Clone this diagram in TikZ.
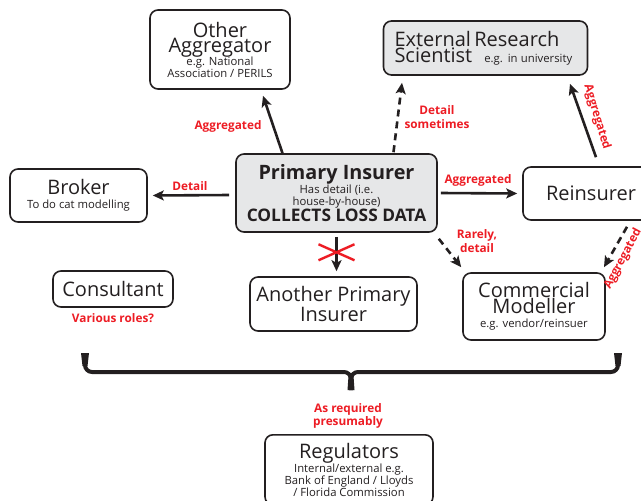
\documentclass[tikz,border=0pt]{standalone}
\usepackage{fontspec}
\setmainfont{Open Sans}
\usetikzlibrary{arrows.meta,calc}
\definecolor{lblred}{RGB}{237,28,36}
\definecolor{boxgray}{RGB}{230,231,232}
\definecolor{ink}{RGB}{35,31,32}
\newcommand\boxtitle{\fontsize{20}{20}\selectfont}
\newcommand\boxnote{\fontsize{11.3}{13}\selectfont}
\newcommand\boxsub{\fontsize{11.3}{13}\selectfont}
\begin{document}
\begin{tikzpicture}[x=1pt,y=-1pt,
  box/.style={draw=ink, line width=1.6pt, rounded corners=8pt, align=center,
    inner sep=0pt, text=ink},
  graybox/.style={box, fill=boxgray},
  flow/.style={draw=ink, line width=2.6pt,
    -{Stealth[length=11pt,width=10pt,inset=2.5pt]}},
  maybe/.style={flow, dash pattern=on 7pt off 5pt},
  lbl/.style={text=lblred, font=\fontsize{11.8}{13.5}\selectfont\bfseries,
    align=center, inner sep=0pt}]
\useasboundingbox (0,0) rectangle (641,501);

% ---- boxes ----
\node[box, minimum width=140pt, minimum height=79pt] (oagg) at (220,49.5)
  {\boxtitle Other\\\boxtitle Aggregator\\[-2pt]\boxnote e.g. National\\\boxnote Association / PERILS};
\node[graybox, minimum width=204pt, minimum height=54pt, align=left, text width=182pt]
  (ext) at (485.5,48)
  {\boxtitle External Research\\Scientist\hspace{12pt}\boxnote e.g. in university};
\node[box, minimum width=137pt, minimum height=53pt] (broker) at (78.5,195.5)
  {\boxtitle Broker\\[2pt]\boxnote To do cat modelling};
\node[graybox, minimum width=201pt, minimum height=78pt] (primary) at (336.5,193)
  {\fontsize{19.8}{20}\selectfont\bfseries Primary Insurer\\
   \boxsub Has detail (i.e.\\\boxsub house-by-house)\\
   \fontsize{17.3}{18}\selectfont\bfseries COLLECTS LOSS DATA};
\node[box, minimum width=136pt, minimum height=53pt] (reins) at (591,193.5)
  {\boxtitle Reinsurer};
\node[box, minimum width=120pt, minimum height=36pt] (consult) at (113,289)
  {\boxtitle Consultant};
\node[box, minimum width=167pt, minimum height=54pt] (another) at (333.5,304)
  {\boxtitle Another Primary\\\boxtitle Insurer};
\node[box, minimum width=142pt, minimum height=67pt] (commod) at (534,306.5)
  {\boxtitle Commercial\\\boxtitle Modeller\\[2pt]\boxnote e.g. vendor/reinsuer};
\node[box, minimum width=168pt, minimum height=70pt, anchor=north] (regul) at (349,434)
  {\boxtitle Regulators\\[0pt]\boxsub Internal/external e.g.\\\boxsub Bank of England / Lloyds\\\boxsub / Florida Commission};

% ---- flows of data ----
\draw[flow] ([xshift=-54pt]primary.north) -- ([xshift=43pt,yshift=-6pt]oagg.south);
\draw[maybe] ([xshift=57pt,yshift=1pt]primary.north) -- ([xshift=-83.5pt,yshift=-7pt]ext.south);
\draw[flow] ([xshift=-6pt,yshift=-2pt]primary.west) -- ([xshift=5pt]broker.east);
\draw[flow] ([xshift=3pt]primary.east) -- ([xshift=-5pt]reins.west);
\draw[flow] ([xshift=5pt,yshift=9pt]reins.north) -- ([xshift=84.5pt,yshift=-8pt]ext.south);
\draw[maybe] ([xshift=36pt,yshift=-6pt]reins.south) -- ([xshift=70pt,yshift=5pt]commod.north);
\draw[maybe] ([xshift=1pt,yshift=-6pt]primary.south east) -- ([xshift=-1pt,yshift=5pt]commod.north west);
\draw[flow] ([yshift=-4pt]primary.south) -- ([yshift=5pt]primary.south |- another.north) coordinate[pos=0.45] (nope);

% ---- crossed out: no sharing between primary insurers ----
\draw[lblred, line width=2.4pt] ($(nope)+(-18,-8)$) -- ($(nope)+(18,8)$)
  ($(nope)+(-18,8)$) -- ($(nope)+(18,-8)$);

% ---- labels on the flows ----
\node[lbl] (l1) at (228,126) {Aggregated};
\node[lbl] (l2) at (437,117) {Detail\\sometimes};
\node[lbl] (l3) at (190,186) {Detail};
\node[lbl] (l4) at (478,180) {Aggregated};
\node[lbl, rotate=-73] (l5) at (597,117) {Aggregated};
\node[lbl, rotate=62] (l6) at (623,259) {Aggregated};
\node[lbl] (l7) at (477,241) {Rarely,\\detail};
\node[lbl] (l8) at (113,318) {Various roles?};
\node[lbl] (l9) at (348,416) {As required\\presumably};

% ---- brace gathering everyone above the regulators ----
\coordinate (bl) at (85,353);
\coordinate (br) at (618,353);
\coordinate (bt) at (351,372);
\draw[ink, line width=4pt, rounded corners=7pt] (bl) |- (bt) -- ++(0,18);
\draw[ink, line width=4pt, rounded corners=7pt] (br) |- (bt) -- ++(0,18);
\fill[ink] (81,353) -- (89,353) -- (87.5,366) -- (82.5,366) -- cycle;
\fill[ink] (614,353) -- (622,353) -- (620.5,366) -- (615.5,366) -- cycle;
\fill[ink] ($(bt)+(-2.5,4)$) -- ($(bt)+(2.5,4)$) -- ($(bt)+(3.5,18)$) -- ($(bt)+(-3.5,18)$) -- cycle;
\end{tikzpicture}
\end{document}
